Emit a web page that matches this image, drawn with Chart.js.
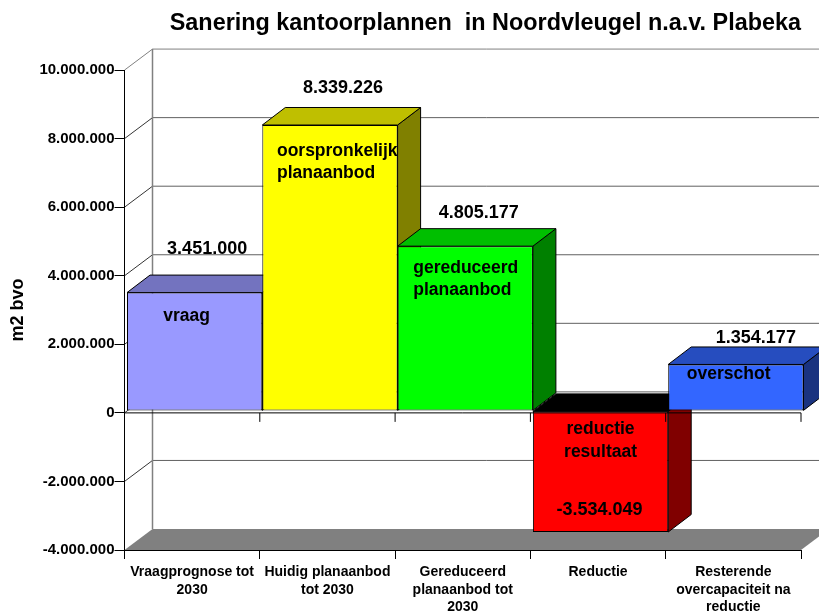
<!DOCTYPE html>
<html lang="nl">
    <head>
        <meta charset="UTF-8" />
        <title>Sanering kantoorplannen in Noordvleugel n.a.v. Plabeka</title>
        <script src="https://cdn.jsdelivr.net/npm/chart.js"></script>
        <style>
            body {
                margin: 0;
                background: #fff;
            }
            #chart {
                display: block;
            }
        </style>
    </head>
    <body>
        <canvas id="chart" width="819" height="614"></canvas>

        <script>
            // Data
            const categories = [
                ['Vraagprognose tot', '2030'],
                ['Huidig planaanbod', 'tot 2030'],
                ['Gereduceerd', 'planaanbod tot', '2030'],
                ['Reductie'],
                ['Resterende', 'overcapaciteit na', 'reductie'],
            ];
            const values = [3451000, 8339226, 4805177, -3534049, 1354177];
            const valueLabels = ['3.451.000', '8.339.226', '4.805.177', '-3.534.049', '1.354.177'];
            const yTickLabels = ['-4.000.000', '-2.000.000', '0', '2.000.000', '4.000.000', '6.000.000', '8.000.000', '10.000.000'];
            const barNotes = [['vraag'], ['oorspronkelijk', 'planaanbod'], ['gereduceerd', 'planaanbod'], ['reductie', 'resultaat'], ['overschot']];

            // Face colours of the 3D boxes
            const frontColors = ['#9999ff', '#ffff00', '#00ff00', '#ff0000', '#3366ff'];
            const topColors = ['#7373bf', '#bfbf00', '#00bf00', '#000000', '#264dbf'];
            const sideColors = ['#4d4d80', '#808000', '#008000', '#800000', '#1a3380'];

            // 3D projection, in pixels
            const wallDepth = { x: 28, y: -21 };
            const barDepth = { x: 23, y: -17.5 };
            const barShift = { x: 2.5, y: -2 };

            // Hand placed texts, relative to the top of the bar's front face
            const valueOffsets = [
                { x: 12.5, y: -44 },
                { x: 13, y: -37 },
                { x: 13.5, y: -33 },
                { x: -1, y: 99 },
                { x: 20, y: -26 },
            ];
            const noteOffsets = [
                { x: -8, y: 24 },
                { x: -53, y: 26 },
                { x: -52, y: 22 },
                { x: 0, y: 18 },
                { x: -49, y: 10 },
            ];
            const noteLineHeight = 22.5;

            function polygon(ctx, points, fill, stroke) {
                ctx.beginPath();
                points.forEach((p, i) => (i ? ctx.lineTo(p[0], p[1]) : ctx.moveTo(p[0], p[1])));
                ctx.closePath();
                ctx.fillStyle = fill;
                ctx.fill();
                if (stroke) {
                    ctx.strokeStyle = stroke;
                    ctx.lineWidth = 1;
                    ctx.stroke();
                }
            }

            function line(ctx, x1, y1, x2, y2, color, width) {
                ctx.beginPath();
                ctx.moveTo(x1, y1);
                ctx.lineTo(x2, y2);
                ctx.strokeStyle = color;
                ctx.lineWidth = width || 1;
                ctx.stroke();
            }

            const box3d = {
                id: 'box3d',
                // floor, back wall and grid
                beforeDraw(chart) {
                    const { ctx, chartArea: area, scales } = chart;
                    const dx = wallDepth.x;
                    const dy = wallDepth.y;
                    polygon(ctx, [
                        [area.left, area.bottom],
                        [area.left + dx, area.bottom + dy],
                        [area.right + dx, area.bottom + dy],
                        [area.right, area.bottom],
                    ], '#808080');
                    scales.y.ticks.forEach((tick) => {
                        const y = scales.y.getPixelForValue(tick.value);
                        if (tick.value === scales.y.min) return;
                        const top = tick.value === scales.y.max;
                        line(ctx, area.left, y, area.left + dx, y + dy, top ? '#808080' : '#333333');
                        line(ctx, area.left + dx, y + dy, area.right + dx, y + dy, top ? '#808080' : '#606060');
                    });
                    line(ctx, area.left + dx, area.top + dy, area.left + dx, area.bottom + dy, '#808080', 1.5);
                },
                // side and top faces go under all the front faces
                beforeDatasetDraw(chart, args) {
                    const { ctx } = chart;
                    ctx.save();
                    ctx.translate(barShift.x, barShift.y);
                    chart.getDatasetMeta(args.index).data.forEach((bar, i) => {
                        const left = bar.x - bar.width / 2;
                        const right = bar.x + bar.width / 2;
                        const top = Math.min(bar.y, bar.base);
                        const bottom = Math.max(bar.y, bar.base);
                        polygon(ctx, [
                            [right, top],
                            [right + barDepth.x, top + barDepth.y],
                            [right + barDepth.x, bottom + barDepth.y],
                            [right, bottom],
                        ], sideColors[i], '#000');
                        polygon(ctx, [
                            [left, top],
                            [left + barDepth.x, top + barDepth.y],
                            [right + barDepth.x, top + barDepth.y],
                            [right, top],
                        ], topColors[i], '#000');
                    });
                },
                afterDatasetDraw(chart) {
                    chart.ctx.restore();
                },
                afterDatasetsDraw(chart) {
                    const { ctx, chartArea: area, scales } = chart;
                    // category axis at zero
                    const zero = scales.y.getPixelForValue(0);
                    line(ctx, area.left, zero, area.right, zero, '#000');
                    const step = (area.right - area.left) / categories.length;
                    categories.forEach((c, i) => {
                        const x = scales.x.getPixelForValue(i) + step / 2;
                        line(ctx, x, zero, x, zero + 9, '#000');
                    });

                    ctx.fillStyle = '#000';
                    ctx.textAlign = 'center';
                    ctx.textBaseline = 'middle';
                    chart.getDatasetMeta(0).data.forEach((bar, i) => {
                        const cx = bar.x + barShift.x;
                        const top = Math.min(bar.y, bar.base) + barShift.y;
                        ctx.font = 'bold 18px "Liberation Sans"';
                        ctx.textAlign = 'center';
                        ctx.fillText(valueLabels[i], cx + valueOffsets[i].x, top + valueOffsets[i].y);
                        ctx.font = 'bold 17.5px "Liberation Sans"';
                        ctx.textAlign = i === 3 || i === 0 ? 'center' : 'left';
                        barNotes[i].forEach((text, n) => {
                            ctx.fillText(text, cx + noteOffsets[i].x, top + noteOffsets[i].y + n * noteLineHeight);
                        });
                    });
                },
            };

            Chart.defaults.font.family = '"Liberation Sans", Arial, sans-serif';
            Chart.defaults.font.weight = 'bold';
            Chart.defaults.color = '#000';

            new Chart(document.getElementById('chart'), {
                type: 'bar',
                data: {
                    labels: categories,
                    datasets: [
                        {
                            data: values,
                            backgroundColor: frontColors,
                            borderColor: '#000',
                            borderWidth: 1,
                            borderSkipped: false,
                            inflateAmount: 0,
                            barPercentage: 1,
                            categoryPercentage: 1,
                            clip: false,
                        },
                    ],
                },
                plugins: [box3d],
                options: {
                    responsive: false,
                    animation: false,
                    layout: { padding: { left: 0, right: 18, top: 0, bottom: 0 } },
                    plugins: {
                        legend: { display: false },
                        tooltip: { enabled: false },
                        title: {
                            display: true,
                            text: 'Sanering kantoorplannen  in Noordvleugel n.a.v. Plabeka',
                            align: 'end',
                            font: { size: 23.4, weight: 'bold', lineHeight: 1.2 },
                            padding: { top: 10, bottom: 32 },
                        },
                    },
                    scales: {
                        x: {
                            border: { color: '#000', width: 1 },
                            grid: { drawOnChartArea: false, color: '#000', tickLength: 9 },
                            ticks: {
                                autoSkip: false,
                                maxRotation: 0,
                                padding: 4,
                                font: { size: 14, lineHeight: 1.27 },
                            },
                            afterFit(scale) {
                                scale.height = 64;
                            },
                        },
                        y: {
                            min: -4000000,
                            max: 10000000,
                            border: { color: '#000', width: 1 },
                            grid: { drawOnChartArea: false, color: '#000', tickLength: 10 },
                            ticks: {
                                stepSize: 2000000,
                                padding: 0,
                                font: { size: 15 },
                                callback: (value, index) => yTickLabels[index],
                            },
                            title: {
                                display: true,
                                text: 'm2 bvo',
                                font: { size: 18, weight: 'bold' },
                                padding: { top: 7, bottom: 0 },
                            },
                            afterFit(scale) {
                                scale.width = 124.5;
                            },
                        },
                    },
                },
            });
        </script>
    </body>
</html>
